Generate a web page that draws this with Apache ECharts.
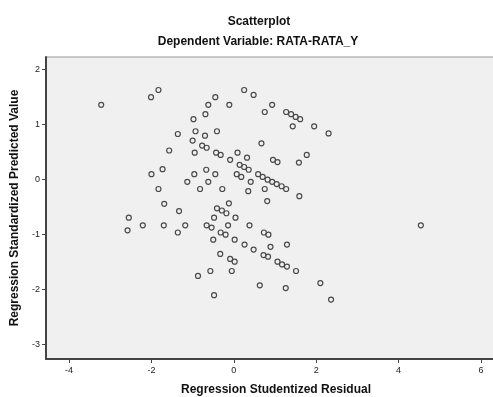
<!DOCTYPE html>
<html>
<head>
<meta charset="utf-8">
<script src="https://cdn.jsdelivr.net/npm/echarts@6/dist/echarts.min.js"></script>
<style>
  html, body { margin: 0; padding: 0; background: #fff; }
  #main { width: 493px; height: 397px; }
</style>
</head>
<body>
<div id="main"></div>
<script>
// studentized residual (x) and standardized predicted value (y)
var residuals = [
  -3.22, -2.01, -1.83, 0.25, 0.48, -0.45, -0.62, -0.11, 0.93, -0.98,
  -0.69, 0.75, 1.27, 1.39, 1.50, 1.61, 1.43, 1.95, 2.30, -0.93,
  -0.70, -0.41, -1.36, -1.00, 0.67, -0.77, -0.66, -1.57, -0.95, -0.43,
  -0.32, 0.09, 0.32, -0.09, 0.14, 0.95, 1.06, 1.77, 1.58, -1.73,
  -2.00, -0.96, -1.13, -0.82, -1.83, -1.69, -1.33, -2.55, -2.21, -1.70,
  -1.18, -2.58, -1.36, 0.25, 0.36, -0.67, -0.45, 0.07, 0.18, 0.59,
  0.70, 0.82, 0.93, 1.04, 1.16, 1.27, 0.41, -0.62, -0.28, 0.35,
  0.75, 0.81, 1.59, -0.12, -0.41, -0.29, -0.18, -0.48, 0.04, -0.66,
  -0.54, -0.14, 0.38, -0.32, -0.20, 0.73, 0.84, -0.50, 0.02, 0.26,
  0.89, 1.29, 0.48, -0.33, 0.72, 0.83, -0.09, 0.02, 1.06, 1.17,
  1.29, 1.51, -0.87, -0.57, -0.05, 0.63, 1.26, 2.10, 2.36, -0.48,
  4.54
];
var predicted = [
  1.35, 1.49, 1.62, 1.62, 1.53, 1.49, 1.35, 1.35, 1.35, 1.09,
  1.18, 1.22, 1.22, 1.18, 1.13, 1.09, 0.96, 0.96, 0.83, 0.87,
  0.79, 0.87, 0.82, 0.70, 0.65, 0.61, 0.57, 0.52, 0.48, 0.48,
  0.44, 0.48, 0.39, 0.35, 0.26, 0.35, 0.31, 0.44, 0.30, 0.18,
  0.09, 0.09, -0.05, -0.18, -0.18, -0.45, -0.58, -0.70, -0.84, -0.84,
  -0.84, -0.93, -0.97, 0.22, 0.17, 0.17, 0.09, 0.09, 0.04, 0.09,
  0.04, -0.01, -0.05, -0.09, -0.13, -0.18, -0.05, -0.05, -0.18, -0.22,
  -0.18, -0.40, -0.31, -0.44, -0.53, -0.57, -0.62, -0.70, -0.70, -0.84,
  -0.88, -0.84, -0.84, -0.97, -1.01, -0.97, -1.01, -1.10, -1.10, -1.19,
  -1.23, -1.19, -1.28, -1.36, -1.38, -1.41, -1.45, -1.50, -1.50, -1.55,
  -1.59, -1.67, -1.76, -1.67, -1.67, -1.93, -1.98, -1.89, -2.19, -2.11,
  -0.84
];
var xTicks = [-4, -2, 0, 2, 4, 6];
var yTicks = [-3, -2, -1, 0, 1, 2];

var points = [];
for (var i = 0; i < residuals.length; i++) {
  points.push([residuals[i], predicted[i]]);
}

var myChart = echarts.init(document.getElementById('main'));
var font = 'Liberation Sans, Arial, sans-serif';

var option = {
  animation: false,
  backgroundColor: '#ffffff',
  title: [
    {
      text: 'Scatterplot',
      left: 254, top: 11, textAlign: 'center',
      textStyle: { fontFamily: font, fontSize: 12, fontWeight: 'bold', color: '#111' }
    },
    {
      text: 'Dependent Variable: RATA-RATA_Y',
      left: 253, top: 31, textAlign: 'center',
      textStyle: { fontFamily: font, fontSize: 12, fontWeight: 'bold', color: '#111' }
    }
  ],
  grid: {
    left: 46, right: -2, top: 57, bottom: 38,
    outerBoundsMode: 'none',
    containLabel: false,
    show: true,
    backgroundColor: '#f0f0f0',
    borderColor: '#999',
    borderWidth: 1
  },
  xAxis: {
    type: 'value',
    min: -4.56, max: 6.34,
    name: 'Regression Studentized Residual',
    nameLocation: 'middle',
    nameGap: 25,
    nameTextStyle: { fontFamily: font, fontSize: 12, fontWeight: 'bold', color: '#111', padding: [0, 0, 0, 11] },
    splitLine: { show: false },
    axisLine: { onZero: false, lineStyle: { color: '#444', width: 2 } },
    axisTick: { show: true, length: 4, customValues: xTicks, lineStyle: { color: '#444' } },
    axisLabel: {
      customValues: xTicks, margin: 7,
      fontFamily: font, fontSize: 9, color: '#222'
    }
  },
  yAxis: {
    type: 'value',
    min: -3.27, max: 2.22,
    name: 'Regression Standardized Predicted Value',
    nameLocation: 'middle',
    nameGap: 22,
    nameTextStyle: { fontFamily: font, fontSize: 12, fontWeight: 'bold', color: '#111' },
    splitLine: { show: false },
    axisLine: { show: true, onZero: false, lineStyle: { color: '#444', width: 2 } },
    axisTick: { show: true, length: 4, customValues: yTicks, lineStyle: { color: '#444' } },
    axisLabel: {
      customValues: yTicks, margin: 6,
      fontFamily: font, fontSize: 9, color: '#222'
    }
  },
  series: [
    {
      type: 'scatter',
      data: points,
      symbol: 'circle',
      symbolSize: 5,
      itemStyle: { color: 'rgba(0,0,0,0)', borderColor: '#4a4a4a', borderWidth: 1.2, opacity: 1 }
    }
  ]
};

myChart.setOption(option);
</script>
</body>
</html>
